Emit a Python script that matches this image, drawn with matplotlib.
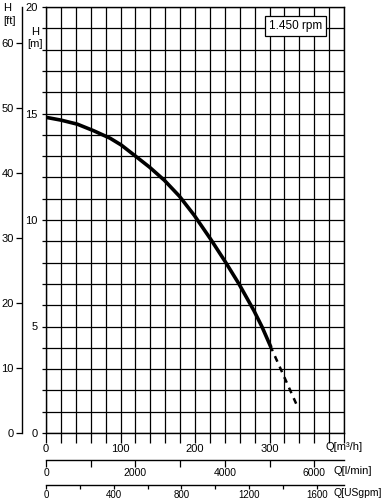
"""Pump head curve (H vs Q) with m/ft and m3/h, l/min, USgpm scales."""

import matplotlib

matplotlib.use("Agg")
import matplotlib.pyplot as plt
from matplotlib.ticker import FixedLocator, FuncFormatter

plt.rcParams["font.family"] = ["Liberation Sans", "DejaVu Sans"]
plt.rcParams["font.size"] = 8

# curve: Q in m3/h, H in m
q_solid = [0, 20, 42, 64, 86, 101, 119, 139, 159, 179, 199, 221, 241, 259, 279, 290, 301]
h_solid = [14.82, 14.69, 14.5, 14.19, 13.84, 13.52, 13.03, 12.48, 11.86, 11.12, 10.22,
           9.1, 8.02, 7.0, 5.75, 4.98, 4.1]
q_dash = [301, 336]
h_dash = [4.1, 1.36]

q_labels = [0, 100, 200, 300]
h_labels = [0, 5, 10, 15, 20]
ft_labels = [0, 10, 20, 30, 40, 50, 60]
lmin_labels = [0, 2000, 4000, 6000]
gpm_labels = [0, 400, 800, 1200, 1600]
speed_text = "1.450 rpm"

W, H = 384, 500
fig = plt.figure(figsize=(W / 100, H / 100), dpi=100)
x0, x1, y0, y1 = 46, 344, 433, 7
ax = fig.add_axes([x0 / W, 1 - y0 / H, (x1 - x0) / W, (y0 - y1) / H])

ax.plot(q_solid, h_solid, color="black", lw=2.6, solid_joinstyle="round", zorder=3)
ax.plot(q_dash, h_dash, color="black", lw=1.8, ls=(0, (2.4, 2.2)), zorder=3)

ax.set_xlim(0, 400)
ax.set_ylim(0, 20)
ax.set_xticks(range(0, 401, 20))
ax.set_xticklabels([str(v) if v in q_labels else "" for v in range(0, 401, 20)])
ax.set_yticks(range(0, 21))
ax.set_yticklabels([str(v) if v in h_labels else "" for v in range(0, 21)])
ax.tick_params(axis="x", direction="out", length=7, width=0.9, pad=1)
ax.tick_params(axis="y", direction="out", length=3, width=0.9, pad=3)
ax.grid(True, color="black", lw=0.9)
for s in ax.spines.values():
    s.set_linewidth(1.0)

ax.text(335, 19.1, speed_text, ha="center", va="center", fontsize=8.5,
        bbox=dict(boxstyle="square,pad=0.35", fc="white", ec="black", lw=0.9), zorder=4)

# feet scale on the left
ft = ax.secondary_yaxis((22 - x0) / (x1 - x0), functions=(lambda m: m / 0.3048, lambda f: f * 0.3048))
ft.set_yticks(ft_labels)
ft.tick_params(direction="out", length=4, width=0.9, pad=2)
ft.spines["left"].set_linewidth(1.0)


# extra flow scales below
def flow_axis(loc_px, factor, major, labels, tick_len, size):
    sx = ax.secondary_xaxis(-(loc_px - y0) / (y0 - y1),
                            functions=(lambda q: q * factor, lambda v: v / factor))
    sx.xaxis.set_major_locator(FixedLocator(major))
    sx.xaxis.set_major_formatter(FuncFormatter(lambda v, p: f"{v:.0f}" if round(v) in labels else ""))
    sx.tick_params(direction="out", length=tick_len, width=0.9, pad=0.5, labelsize=size)
    sx.spines["bottom"].set_linewidth(1.0)
    return sx


flow_axis(460, 1000 / 60, list(range(0, 6700, 1000)), lmin_labels, 5, 7.5)
flow_axis(485, 4.4029, list(range(0, 1800, 200)), gpm_labels, 3, 7)

fig.text(325 / W, 1 - 447 / H, "Q[m³/h]", ha="left", va="center")
fig.text(333 / W, 1 - 471 / H, "Q[l/min]", ha="left", va="center")
fig.text(333 / W, 1 - 493 / H, "Q[USgpm]", ha="left", va="center", fontsize=7.5)
fig.text(3 / W, 1 - 3 / H, "H\n[ft]", ha="left", va="top", linespacing=1.35)
fig.text(35 / W, 1 - 27 / H, "H\n[m]", ha="center", va="top", linespacing=1.3, multialignment="center")

fig.savefig("out.png", dpi=100)
